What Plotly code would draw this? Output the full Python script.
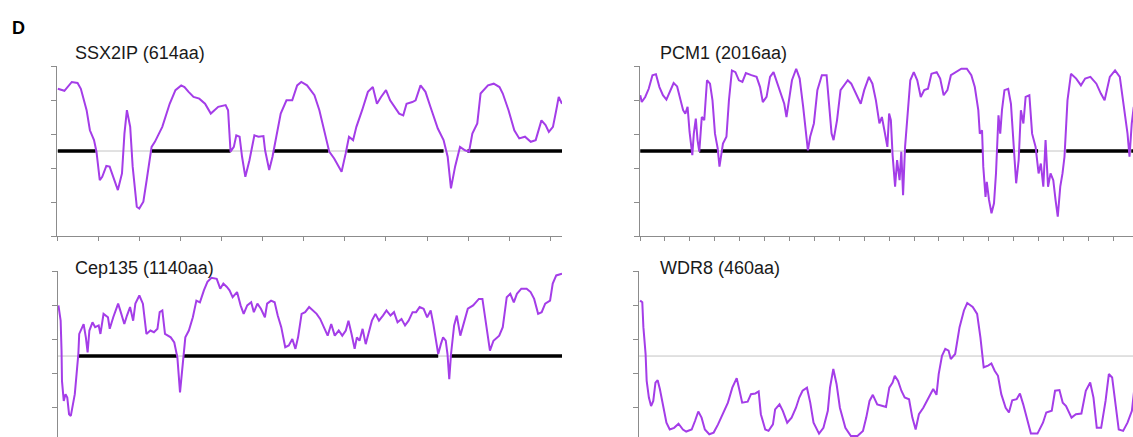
import plotly.graph_objects as go

W, H = 1133, 437
THRESHOLD = 2.5
TRACE_COLOR = "#a43de8"
AXIS_COLOR = "#8c8c8c"
FONT = "Liberation Sans, Arial, sans-serif"

# ---------------- data: residue position vs score ----------------
ssx2ip_len = 614
ssx2ip_pos = [1, 9, 18, 25, 29, 36, 40, 45, 48, 52, 55, 60, 64, 70, 74, 79, 82, 85, 89, 92,
              97, 100, 105, 109, 115, 119, 128, 137, 144, 151, 155, 160, 166, 173, 180, 187, 196, 205, 208, 211,
              215, 218, 222, 225, 229, 234, 240, 245, 251, 253, 258, 262, 267, 272, 279, 286, 292, 297, 304, 313,
              319, 326, 331, 337, 346, 351, 355, 360, 364, 371, 378, 384, 389, 394, 400, 405, 409, 416, 421, 425,
              432, 436, 442, 448, 454, 463, 470, 475, 479, 484, 490, 496, 501, 505, 511, 515, 524, 531, 538, 542,
              549, 556, 562, 569, 576, 582, 589, 594, 598, 603, 607, 610, 614]
ssx2ip_score = [4.33, 4.27, 4.53, 4.50, 4.33, 3.70, 3.11, 2.82, 2.48, 1.64, 1.74, 2.06, 2.04, 1.64, 1.35, 1.84, 3.01, 3.70, 3.21, 2.04,
                0.86, 0.81, 1.01, 1.64, 2.62, 2.77, 3.21, 3.89, 4.29, 4.43, 4.38, 4.24, 4.09, 4.04, 3.89, 3.60, 3.80, 3.85, 3.70, 2.48,
                2.62, 2.96, 2.92, 2.33, 1.74, 2.23, 2.96, 2.92, 2.94, 2.52, 1.94, 2.33, 3.01, 3.60, 3.99, 3.99, 4.43, 4.53, 4.43, 4.14,
                3.70, 3.01, 2.48, 2.28, 1.89, 2.43, 2.92, 2.82, 3.21, 3.70, 4.24, 4.38, 3.89, 4.09, 4.29, 3.99, 3.85, 3.60, 3.55, 3.89,
                3.94, 3.99, 4.43, 4.24, 3.80, 3.16, 2.82, 2.33, 1.40, 2.04, 2.62, 2.52, 2.48, 3.01, 3.31, 4.19, 4.43, 4.48, 4.38, 4.19,
                3.70, 3.11, 2.87, 2.92, 2.77, 2.82, 3.40, 3.26, 3.06, 3.21, 3.70, 4.09, 3.89]
ssx2ip_cc = [(1, 47), (115, 211), (263, 330), (353, 470), (499, 614)]

pcm1_len = 2016
pcm1_pos = [1, 7, 21, 35, 50, 64, 78, 92, 106, 121, 135, 149, 163, 173, 182, 191, 199, 210, 216, 224,
            231, 238, 248, 258, 269, 281, 291, 301, 312, 319, 333, 347, 357, 369, 383, 397, 411, 425, 447, 468,
            482, 493, 508, 522, 536, 550, 564, 579, 588, 598, 610, 627, 641, 655, 666, 674, 683, 698, 712, 730,
            749, 759, 769, 777, 791, 805, 820, 834, 848, 858, 872, 886, 900, 919, 933, 947, 961, 971, 981, 993,
            1000, 1007, 1014, 1024, 1032, 1042, 1049, 1056, 1064, 1075, 1085, 1099, 1113, 1127, 1141, 1156, 1170, 1191, 1205, 1219,
            1234, 1248, 1269, 1290, 1312, 1330, 1344, 1358, 1364, 1373, 1378, 1387, 1392, 1401, 1411, 1421, 1429, 1439, 1446, 1453,
            1463, 1478, 1489, 1500, 1510, 1520, 1529, 1539, 1548, 1563, 1574, 1588, 1600, 1609, 1619, 1628, 1638, 1648, 1659, 1668,
            1677, 1687, 1696, 1704, 1716, 1730, 1751, 1770, 1787, 1808, 1832, 1850, 1865, 1886, 1907, 1926, 1943, 1957, 1965, 1974,
            1982]
pcm1_score = [4.14, 3.94, 4.09, 4.33, 4.73, 4.76, 4.38, 4.14, 4.01, 4.29, 4.50, 4.40, 3.99, 3.70, 3.60, 3.80, 3.06, 2.38, 3.01, 3.45,
              2.82, 2.48, 3.50, 3.41, 4.58, 4.48, 3.99, 3.01, 2.57, 2.04, 2.72, 2.92, 3.99, 4.87, 4.82, 4.58, 4.53, 4.79, 4.73, 4.68,
              4.38, 3.94, 4.09, 4.68, 4.82, 4.53, 4.24, 3.89, 3.50, 3.99, 4.58, 4.92, 4.63, 3.80, 3.01, 2.52, 2.92, 3.31, 4.29, 4.73,
              4.73, 3.80, 3.01, 2.82, 3.41, 4.29, 4.43, 4.58, 4.48, 4.33, 4.14, 3.89, 4.29, 4.68, 4.48, 3.99, 3.31, 3.50, 3.11, 2.62,
              3.60, 3.41, 2.38, 1.45, 2.23, 1.64, 2.48, 1.20, 2.62, 3.60, 4.58, 4.82, 4.58, 4.09, 4.29, 4.33, 4.77, 4.82, 4.63, 4.14,
              4.29, 4.73, 4.82, 4.92, 4.92, 4.73, 4.38, 3.70, 3.01, 3.11, 2.04, 1.15, 1.59, 1.06, 0.67, 0.96, 1.84, 3.55, 3.01, 3.70,
              4.29, 4.33, 3.89, 2.52, 1.55, 2.23, 3.70, 3.31, 4.09, 4.14, 3.01, 2.62, 1.84, 2.13, 1.45, 2.82, 1.45, 1.84, 1.64, 1.06,
              0.57, 1.45, 1.84, 2.33, 3.99, 4.77, 4.63, 4.43, 4.63, 4.68, 4.48, 4.19, 3.99, 4.68, 4.87, 4.68, 3.70, 3.01, 2.33, 3.31,
              3.80]
pcm1_cc = [(1, 210), (238, 309), (326, 1007), (1064, 1373), (1432, 1505), (1524, 1598), (1711, 1964), (1972, 2016)]

cep135_len = 1140
cep135_pos = [1, 6, 8, 9, 13, 17, 21, 25, 29, 33, 38, 42, 46, 48, 54, 58, 63, 67, 71, 78,
              84, 92, 96, 103, 113, 117, 125, 136, 142, 150, 156, 163, 170, 175, 184, 192, 200, 209, 217, 225,
              230, 236, 242, 248, 255, 263, 270, 276, 280, 284, 288, 296, 305, 313, 321, 330, 338, 347, 359, 367,
              374, 382, 388, 395, 405, 413, 420, 428, 437, 443, 451, 459, 468, 473, 482, 490, 497, 505, 514, 522,
              530, 537, 543, 551, 559, 568, 576, 585, 593, 601, 610, 618, 626, 635, 643, 651, 657, 664, 671, 676,
              682, 689, 696, 701, 710, 718, 726, 735, 743, 752, 760, 768, 777, 785, 793, 802, 810, 818, 827, 835,
              843, 849, 854, 860, 866, 871, 877, 881, 885, 889, 896, 902, 910, 919, 927, 939, 952, 960, 969, 977,
              985, 998, 1006, 1015, 1023, 1031, 1038, 1048, 1060, 1069, 1077, 1086, 1094, 1102, 1113, 1119, 1127, 1140]
cep135_score = [3.99, 3.54, 2.66, 1.77, 1.18, 1.38, 1.28, 0.79, 0.74, 0.98, 1.38, 1.97, 2.56, 3.15, 3.30, 3.44, 3.05, 2.61, 3.25, 3.49,
                3.35, 3.40, 3.15, 3.74, 3.64, 3.30, 3.64, 4.04, 3.79, 3.44, 3.69, 3.94, 3.54, 4.04, 4.28, 4.04, 3.15, 3.25, 3.20, 3.30,
                3.79, 3.84, 3.15, 3.10, 3.05, 2.90, 2.46, 1.43, 1.97, 2.66, 3.05, 3.25, 3.64, 4.13, 4.08, 4.43, 4.68, 4.80, 4.77, 4.48,
                4.63, 4.53, 4.43, 4.23, 4.38, 3.99, 3.74, 3.99, 4.08, 3.79, 4.04, 3.89, 3.64, 4.04, 4.13, 4.08, 3.69, 3.35, 2.76, 2.81,
                3.00, 2.71, 3.05, 3.74, 3.79, 3.94, 3.84, 3.74, 3.59, 3.35, 3.10, 3.44, 3.10, 3.25, 3.10, 3.25, 3.54, 3.15, 2.71, 3.05,
                2.95, 3.30, 2.85, 3.10, 3.54, 3.74, 3.54, 3.69, 3.84, 3.69, 3.79, 3.49, 3.59, 3.40, 3.54, 3.79, 3.79, 3.94, 3.89, 3.64,
                3.84, 3.44, 3.00, 2.56, 2.85, 3.05, 2.95, 2.56, 1.82, 2.56, 3.40, 3.69, 3.10, 3.54, 3.89, 3.99, 4.18, 4.18, 3.35, 2.66,
                2.95, 3.10, 3.35, 4.23, 4.33, 4.08, 4.33, 4.48, 4.48, 4.38, 4.18, 3.74, 3.79, 4.04, 4.13, 4.63, 4.87, 4.92]
cep135_cc = [(46, 270), (284, 860), (889, 1140)]

wdr8_len = 460
wdr8_pos = [1, 3, 4, 6, 7, 9, 11, 13, 15, 17, 19, 22, 25, 28, 32, 36, 40, 43, 48, 51,
            54, 57, 60, 64, 68, 72, 77, 81, 85, 89, 91, 94, 99, 102, 106, 109, 111, 115, 118, 122,
            124, 128, 131, 135, 139, 143, 146, 149, 153, 156, 159, 164, 168, 172, 174, 177, 180, 183, 188, 193,
            199, 204, 207, 210, 213, 217, 222, 225, 228, 231, 233, 236, 239, 242, 246, 249, 252, 255, 259, 262,
            265, 268, 271, 273, 276, 279, 282, 284, 288, 290, 292, 296, 299, 304, 308, 311, 314, 318, 321, 324,
            327, 330, 334, 337, 340, 344, 347, 350, 354, 357, 363, 368, 371, 376, 379, 383, 386, 389, 394, 398,
            403, 407, 411, 414, 417, 421, 425, 428, 431, 434, 437, 441, 445, 449, 452, 453]
wdr8_score = [4.13, 4.08, 3.35, 2.56, 1.77, 1.28, 1.03, 1.18, 1.72, 1.79, 1.53, 0.98, 0.54, 0.34, 0.39, 0.51, 0.34, 0.28, 0.34, 0.59,
              0.87, 0.69, 0.34, 0.20, 0.25, 0.49, 0.84, 1.13, 1.57, 1.85, 1.57, 1.13, 1.16, 1.38, 1.40, 1.46, 0.79, 0.34, 0.30, 0.49,
              0.93, 1.08, 0.89, 0.54, 0.69, 0.98, 1.28, 1.48, 1.57, 1.13, 0.54, 0.22, 0.39, 0.89, 1.57, 2.12, 1.67, 0.98, 0.39, 0.15,
              0.15, 0.30, 0.69, 1.18, 1.36, 1.08, 1.03, 1.00, 1.57, 1.72, 1.92, 1.77, 1.48, 1.28, 1.23, 0.69, 0.34, 0.79, 0.98, 1.18,
              1.38, 1.53, 1.36, 1.97, 2.51, 2.71, 2.66, 2.41, 2.56, 2.95, 3.35, 3.84, 4.06, 3.94, 3.74, 3.05, 2.17, 2.22, 2.28, 2.07,
              1.92, 1.38, 0.98, 0.84, 1.20, 1.23, 1.40, 1.08, 0.54, 0.22, 0.22, 0.54, 0.84, 0.89, 1.48, 1.50, 1.13, 1.03, 0.69, 0.79,
              0.81, 1.48, 1.72, 1.28, 0.39, 0.39, 1.18, 1.97, 1.87, 1.08, 0.34, 0.30, 0.54, 0.89, 1.77, 2.36]
wdr8_cc = []

panel_titles = ["SSX2IP (614aa)", "PCM1 (2016aa)", "Cep135 (1140aa)", "WDR8 (460aa)"]
score_ticks = [0, 1, 2, 3, 4, 5]

# ---------------- layout (pixel geometry) ----------------
def px_x(p):
    return p / W

def px_y(p):
    return 1 - p / H

panels = [
    dict(pos=ssx2ip_pos, score=ssx2ip_score, cc=ssx2ip_cc, length=ssx2ip_len, dtick=50,
         xpx=(57, 562), ypx=(66, 236), yr=[0, 5], xr_end=614, xline=True,
         title=panel_titles[0], tpx=(73, 53)),
    dict(pos=pcm1_pos, score=pcm1_score, cc=pcm1_cc, length=pcm1_len, dtick=100,
         xpx=(640, 1133), ypx=(66, 236), yr=[0, 5], xr_end=1979, xline=True,
         title=panel_titles[1], tpx=(658, 53)),
    dict(pos=cep135_pos, score=cep135_score, cc=cep135_cc, length=cep135_len, dtick=100,
         xpx=(58, 562), ypx=(271, 437), yr=[0.12, 5], xr_end=1140, xline=False,
         title=panel_titles[2], tpx=(73, 268)),
    dict(pos=wdr8_pos, score=wdr8_score, cc=wdr8_cc, length=wdr8_len, dtick=50,
         xpx=(639, 1133), ypx=(271, 437), yr=[0.12, 5], xr_end=450, xline=False,
         title=panel_titles[3], tpx=(658, 268)),
]

fig = go.Figure()
annotations = []
for i, p in enumerate(panels):
    n = "" if i == 0 else str(i + 1)
    xa, ya = "x" + n, "y" + n
    # threshold reference line
    fig.add_trace(go.Scatter(x=[0, p["length"]], y=[THRESHOLD, THRESHOLD], mode="lines",
                             line=dict(color="#c4c4c4", width=1), xaxis=xa, yaxis=ya,
                             hoverinfo="skip", showlegend=False))
    # predicted coiled-coil segments (black bars)
    for (s, e) in p["cc"]:
        fig.add_trace(go.Scatter(x=[s, e], y=[THRESHOLD, THRESHOLD], mode="lines",
                                 line=dict(color="#000000", width=3.6), xaxis=xa, yaxis=ya,
                                 hoverinfo="skip", showlegend=False))
    # score profile
    fig.add_trace(go.Scatter(x=p["pos"], y=p["score"], mode="lines",
                             line=dict(color=TRACE_COLOR, width=2), xaxis=xa, yaxis=ya,
                             showlegend=False))
    fig.layout["xaxis" + n] = dict(
        domain=[px_x(p["xpx"][0]), px_x(p["xpx"][1])], range=[0, p["xr_end"]],
        anchor=ya, showgrid=False, zeroline=False, showticklabels=False,
        showline=p["xline"], linecolor=AXIS_COLOR, linewidth=1,
        ticks="outside" if p["xline"] else "", ticklen=4, tickcolor=AXIS_COLOR,
        tick0=0, dtick=p["dtick"], fixedrange=True)
    fig.layout["yaxis" + n] = dict(
        domain=[px_y(p["ypx"][1]), px_y(p["ypx"][0])], range=p["yr"],
        anchor=xa, showgrid=False, zeroline=False, showticklabels=False,
        showline=True, linecolor=AXIS_COLOR, linewidth=1,
        ticks="outside", ticklen=5, tickcolor=AXIS_COLOR,
        tickvals=score_ticks, fixedrange=True)
    annotations.append(dict(text=p["title"], xref="paper", yref="paper",
                            x=px_x(p["tpx"][0]), y=px_y(p["tpx"][1]),
                            xanchor="left", yanchor="middle", showarrow=False,
                            font=dict(family=FONT, size=18, color="#1a1a1a")))

annotations.append(dict(text="<b>D</b>", xref="paper", yref="paper", x=px_x(10), y=px_y(28),
                        xanchor="left", yanchor="middle", showarrow=False,
                        font=dict(family=FONT, size=18, color="#000000")))

fig.update_layout(width=W, height=H, margin=dict(l=0, r=0, t=0, b=0),
                  paper_bgcolor="white", plot_bgcolor="white",
                  annotations=annotations, showlegend=False)

fig.write_html("out.html", config={"displayModeBar": False},
               post_script="document.body.style.margin='0';document.body.style.overflow='hidden';")
